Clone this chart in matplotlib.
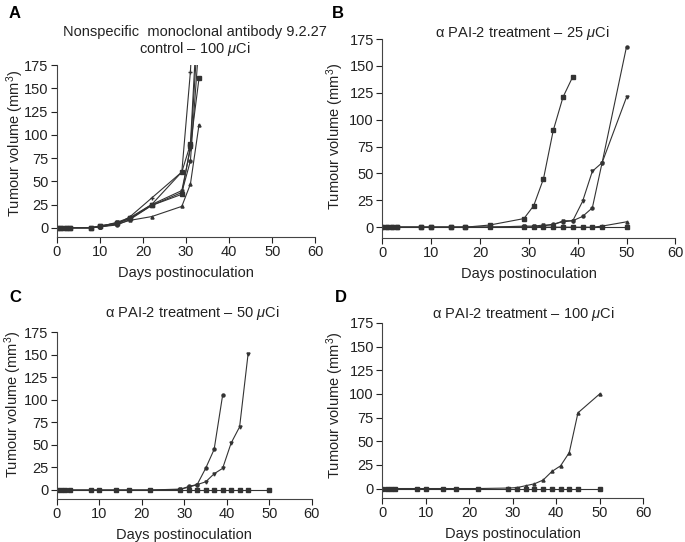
import matplotlib
matplotlib.use('Agg')
import matplotlib.pyplot as plt

plt.rcParams['font.family'] = ['Liberation Sans', 'DejaVu Sans']
plt.rcParams['mathtext.fontset'] = 'custom'
plt.rcParams['mathtext.it'] = 'Liberation Sans:italic'
plt.rcParams['mathtext.rm'] = 'Liberation Sans'

# panel A: control antibody, 100 uCi (values above 175 run off the top)
daysA = [0, 1, 2, 3, 8, 10, 14, 17, 22, 29, 31, 33]
A1 = [0, 0, 0, 0, 0, 1, 4, 12, 32, 60, 168, 350]
A2 = [0, 0, 0, 0, 0, 2, 5, 10, 25, 60, 90, 260]
A3 = [0, 0, 0, 0, 0, 1, 6, 11, 25, 40, 85, 230]
A4 = [0, 0, 0, 0, 0, 1, 3, 9, 24, 38, 72, 200]
A5 = [0, 0, 0, 0, 0, 2, 5, 10, 24, 36, 88, 161]
A6 = [0, 0, 0, 0, 0, 1, 4, 8, 12, 23, 47, 111]

# panel B: 25 uCi
daysB1 = [0, 1, 2, 3, 8, 10, 14, 17, 22, 29, 31, 33, 35, 37, 39]
B1 = [0, 0, 0, 0, 0, 0, 0, 0, 2, 8, 20, 45, 90, 121, 140]
daysB = [0, 1, 2, 3, 8, 10, 14, 17, 22, 29, 31, 33, 35, 37, 39, 41, 43, 45, 50]
B2 = [0, 0, 0, 0, 0, 0, 0, 0, 0, 1, 1, 2, 2, 6, 6, 24, 52, 60, 121]
B3 = [0, 0, 0, 0, 0, 0, 0, 0, 0, 0, 0, 1, 3, 5, 6, 10, 18, 60, 168]
B4 = [0, 0, 0, 0, 0, 0, 0, 0, 0, 0, 0, 0, 0, 0, 0, 0, 0, 1, 5]
B5 = [0, 0, 0, 0, 0, 0, 0, 0, 0, 0, 0, 0, 0, 0, 0, 0, 0, 0, 0]

# panel C: 50 uCi
daysC1 = [0, 1, 2, 3, 8, 10, 14, 17, 22, 29, 31, 33, 35, 37, 39]
C1 = [0, 0, 0, 0, 0, 0, 0, 0, 0, 0.5, 4, 6, 24, 45, 105]
daysC = [0, 1, 2, 3, 8, 10, 14, 17, 22, 29, 31, 33, 35, 37, 39, 41, 43, 45]
C2 = [0, 0, 0, 0, 0, 0, 0, 0, 0, 1, 3, 6, 9, 18, 24, 52, 70, 151]
daysC3 = [0, 1, 2, 3, 8, 10, 14, 17, 22, 29, 31, 33, 35, 37, 39, 41, 43, 45, 50]
C3 = [0] * 19

# panel D: 100 uCi
daysD = [0, 1, 2, 3, 8, 10, 14, 17, 22, 29, 31, 33, 35, 37, 39, 41, 43, 45, 50]
D1 = [0, 0, 0, 0, 0, 0, 0, 0, 0, 0.5, 1, 3, 5, 9, 18, 24, 38, 80, 100]
D2 = [0] * 19

titles = ['Nonspecific  monoclonal antibody 9.2.27\ncontrol \u2013 100 $\\mu$Ci',
          '\u03b1 PAI-2 treatment \u2013 25 $\\mu$Ci',
          '\u03b1 PAI-2 treatment \u2013 50 $\\mu$Ci',
          '\u03b1 PAI-2 treatment \u2013 100 $\\mu$Ci']
letters = ['A', 'B', 'C', 'D']
ylab = 'Tumour volume (mm$^3$)'

fig = plt.figure(figsize=(6.85, 5.42), dpi=100)
axA = fig.add_axes([0.0832, 0.5627, 0.377, 0.317])
axB = fig.add_axes([0.558, 0.561, 0.428, 0.367])
axC = fig.add_axes([0.0832, 0.0793, 0.372, 0.308])
axD = fig.add_axes([0.558, 0.0812, 0.381, 0.323])

lc = '#333333'
tc = '#222222'
fs = 10.5
kw = dict(color=lc, lw=0.8, ms=2.2)

for y, m in zip([A1, A2, A3, A4, A5, A6], ['+', 's', 'v', 'o', 's', '^']):
    axA.plot(daysA, y, marker=m, **kw)

axB.plot(daysB1, B1, marker='s', **kw)
axB.plot(daysB, B2, marker='v', **kw)
axB.plot(daysB, B3, marker='o', **kw)
axB.plot(daysB, B4, marker='^', **kw)
axB.plot(daysB, B5, marker='s', **kw)

axC.plot(daysC1, C1, marker='o', **kw)
axC.plot(daysC, C2, marker='v', **kw)
axC.plot(daysC3, C3, marker='s', **kw)

axD.plot(daysD, D1, marker='^', **kw)
axD.plot(daysD, D2, marker='s', **kw)

for ax in [axA, axB, axC, axD]:
    ax.set_xlim(0, 60)
    ax.set_ylim(-10, 175)
    ax.set_xticks([0, 10, 20, 30, 40, 50, 60])
    ax.set_yticks([0, 25, 50, 75, 100, 125, 150, 175])
    ax.spines['top'].set_visible(False)
    ax.spines['right'].set_visible(False)
    for s in ['left', 'bottom']:
        ax.spines[s].set_color('#444444')
        ax.spines[s].set_linewidth(0.8)
    ax.tick_params(direction='out', length=4, width=0.8, labelsize=fs,
                   colors=tc, pad=2)
    ax.set_xlabel('Days postinoculation', fontsize=fs, color=tc, labelpad=5)

# y labels
for x, y in [(0.022, 0.736), (0.489, 0.748), (0.020, 0.253), (0.489, 0.252)]:
    fig.text(x, y, ylab, rotation=90, ha='center', va='center', fontsize=fs, color=tc)

fig.text(0.285, 0.924, titles[0], ha='center', va='center', fontsize=fs,
         color=tc, linespacing=1.05)
fig.text(0.762, 0.939, titles[1], ha='center', va='center', fontsize=fs, color=tc)
fig.text(0.280, 0.422, titles[2], ha='center', va='center', fontsize=fs, color=tc)
fig.text(0.764, 0.420, titles[3], ha='center', va='center', fontsize=fs, color=tc)

for t, (x, y) in zip(letters, [(0.022, 0.976), (0.493, 0.976), (0.022, 0.452), (0.497, 0.452)]):
    fig.text(x, y, t, ha='center', va='center', fontsize=12, fontweight='bold')

fig.savefig('out.png', dpi=100)
